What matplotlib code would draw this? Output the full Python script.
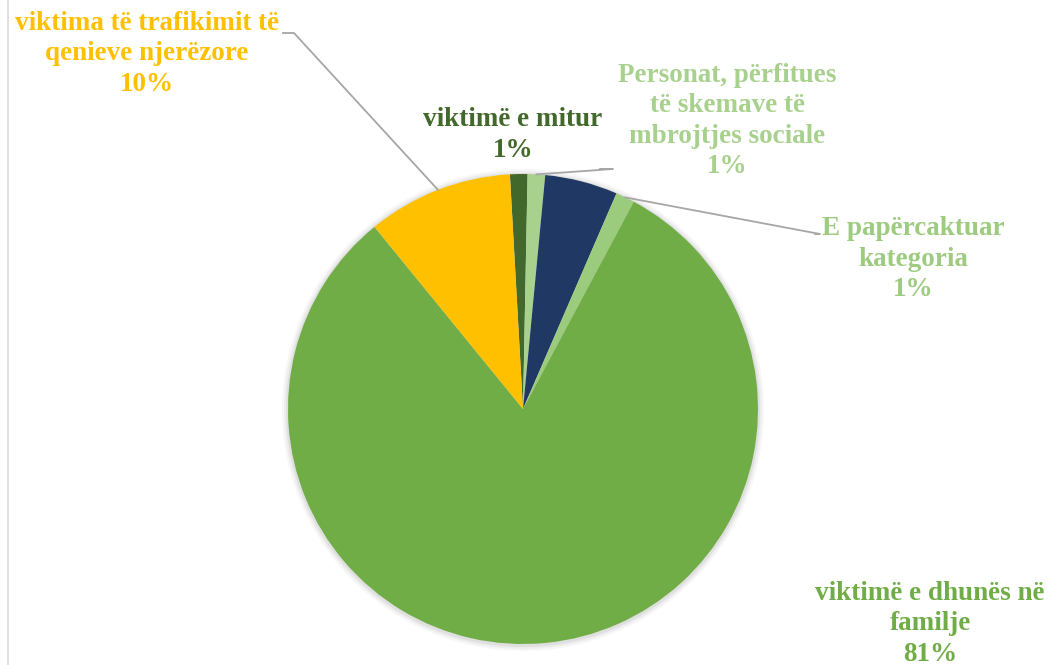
import numpy as np
import matplotlib
matplotlib.use("Agg")
import matplotlib.pyplot as plt
from matplotlib.patches import Circle

# ---- data ----
categories = ["viktimë e mitur",
              "Personat, përfitues\ntë skemave të\nmbrojtjes sociale",
              "Tjetër",
              "E papërcaktuar\nkategoria",
              "viktimë e dhunës në\nfamilje",
              "viktima të trafikimit të\nqenieve njerëzore"]
values = [1.2, 1.2, 5.0, 1.3, 81.3, 10.0]
colors = ["#43682B", "#A9D18E", "#203864", "#9BCB7C", "#70AD47", "#FFC000"]
label_colors = ["#43682B", "#A9D18E", None, "#9DCB80", "#70AD47", "#FFC000"]
show_label = [True, True, False, True, True, True]

# ---- layout (pixel coords, y from top) ----
W, H = 1048, 665
cx, cy, R = 523, 409, 235
start_deg = 93.2
label_pos = {0: (513, 135), 1: (727, 121), 3: (913, 259), 4: (930, 624), 5: (147, 54)}
leaders = {5: [(283, 33), (294, 33)],
           1: [(600, 169), (613, 169)],
           3: [(815, 234), (820, 234)]}

fig = plt.figure(figsize=(W / 100, H / 100), dpi=100)
ax = fig.add_axes([0, 0, 1, 1])
ax.set_xlim(0, W)
ax.set_ylim(0, H)
ax.set_aspect("equal")
ax.axis("off")

def Y(y):
    return H - y

# soft shadow
for k, a in [(6, 0.03), (4, 0.04), (2, 0.06)]:
    ax.add_patch(Circle((cx, Y(cy) - 1), R + k, color="black", alpha=a, lw=0, zorder=0))

wedges, _ = ax.pie(values, colors=colors, startangle=start_deg, counterclock=False,
                   center=(cx, Y(cy)), radius=R, frame=True,
                   wedgeprops=dict(linewidth=0))
ax.set_xlim(0, W)
ax.set_ylim(0, H)
ax.axis("off")

total = sum(values)
for i, w in enumerate(wedges):
    if not show_label[i]:
        continue
    pct = values[i] / total * 100
    txt = f"{categories[i]}\n{pct:.0f}%"
    lx, ly = label_pos[i]
    ax.text(lx, Y(ly), txt, ha="center", va="center", color=label_colors[i],
            family="Liberation Serif", fontweight="bold", fontsize=19.5,
            linespacing=1.28, zorder=5)
    if i in leaders:
        mid = np.deg2rad((w.theta1 + w.theta2) / 2)
        px = cx + R * np.cos(mid)
        py = Y(cy) + R * np.sin(mid)
        pts = [(px, py)] + [(x, Y(y)) for x, y in leaders[i][::-1]]
        xs, ys = zip(*pts)
        ax.plot(xs, ys, color="#A6A6A6", lw=1.3, zorder=4)

# left border line
ax.plot([8, 8], [0, H], color="#D9D9D9", lw=1.2)

fig.savefig("out.png", dpi=100)
